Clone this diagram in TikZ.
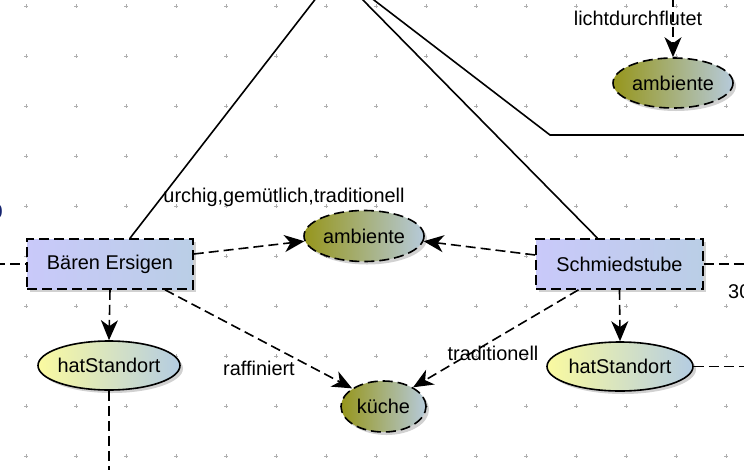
\documentclass[tikz,border=0pt]{standalone}
\usepackage{fontspec}
\setmainfont{Liberation Sans}
\usetikzlibrary{shapes.geometric,shadows,arrows.meta}
\definecolor{boxL}{RGB}{201,201,250}
\definecolor{boxR}{RGB}{186,206,230}
\definecolor{oliveL}{RGB}{150,150,28}
\definecolor{oliveR}{RGB}{182,202,218}
\definecolor{yelL}{RGB}{250,250,160}
\definecolor{yelR}{RGB}{180,204,226}
\definecolor{gridc}{RGB}{175,175,175}
\definecolor{navyc}{RGB}{20,35,110}
\tikzset{
  shad/.style={drop shadow={shadow xshift=3pt,shadow yshift=-3pt,fill=black,opacity=0.18}},
  dsh/.style={dash pattern=on 10pt off 5pt},
  inst/.style={rectangle,draw=black,line width=1.6pt,dsh,left color=boxL,right color=boxR,shad,
    minimum height=50pt,inner sep=0pt,font=\fontsize{19.9}{23}\selectfont},
  ell/.style={ellipse,draw=black,line width=1.6pt,shad,inner sep=0pt},
  olv/.style={ell,dsh,left color=oliveL,right color=oliveR},
  yel/.style={ell,left color=yelL,right color=yelR},
  txt/.style={font=\fontsize{19.9}{23}\selectfont,inner sep=0pt},
  lbl/.style={font=\fontsize{19.9}{23}\selectfont,inner sep=0pt},
  conn/.style={line width=1.6pt,dsh},
  arr/.style={conn,-{Stealth[length=20pt,width=17pt,inset=6pt]}},
  solidl/.style={line width=1.6pt},
  every label/.style={txt}
}
\begin{document}
\begin{tikzpicture}[x=1pt,y=-1pt]
\useasboundingbox (0,0) rectangle (744,469);
\clip (0,0) rectangle (744,469);
% grid
\foreach \i in {0,...,14} {\foreach \j in {0,...,9} {
  \draw[gridc,line width=0.6pt] ({26+50*\i-2},{6+50*\j}) -- ({26+50*\i+2},{6+50*\j})
    ({26+50*\i},{6+50*\j-2}) -- ({26+50*\i},{6+50*\j+2});
}}
% free ends
\coordinate (t1) at (317,-3);
\coordinate (t2) at (360,-3);
\coordinate (t3) at (370,-3);
\coordinate (bend) at (550,135);
\coordinate (r3) at (750,135);
\coordinate (t4) at (673,-3);
\coordinate (l1) at (-5,264);
\coordinate (r1) at (750,264);
\coordinate (r2) at (750,366.5);
\coordinate (b1) at (109,475);
% nodes
\node[inst,minimum width=166pt] (baeren) at (110,264) {Bären Ersigen};
\node[inst,minimum width=167pt] (schmied) at (619.5,264) {Schmiedstube};
\node[olv,minimum width=120pt,minimum height=51pt,label={center:ambiente}] (amb1) at (364,236) {};
\node[olv,minimum width=120pt,minimum height=50pt,label={center:ambiente}] (amb2) at (673,83) {};
\node[olv,minimum width=85pt,minimum height=51pt,label={center:küche}] (kueche) at (383.5,406.5) {};
\node[yel,minimum width=142pt,minimum height=49pt,label={center:hatStandort}] (hs1) at (109,365.5) {};
\node[yel,minimum width=146pt,minimum height=49pt,label={center:hatStandort}] (hs2) at (620,366.5) {};
% labels
\node[lbl] (la) at (284,197) {urchig,gemütlich,traditionell};
\node[lbl] (lb) at (259,368) {raffiniert};
\node[lbl] (lc) at (493,353) {traditionell};
\node[lbl] (ld) at (638,18) {lichtdurchflutet};
\node[lbl,anchor=west] (le) at (728,292) {30};
\node[lbl,anchor=east,text=navyc] (lf) at (3,212) {0};
% solid connectors
\draw[solidl] (t1) -- ([xshift=20pt]baeren.north);
\draw[solidl] (t2) -- ([xshift=-22pt]schmied.north);
\draw[solidl] (t3) -- (bend) -- (r3);
% dashed connectors
\draw[conn] (l1) -- (baeren.west);
\draw[conn] (schmied.east) -- (r1);
\draw[conn] (hs2.east) -- (r2);
\draw[conn] (hs1.south) -- (b1);
\draw[arr] ([yshift=10pt]baeren.east) -- (amb1.185);
\draw[arr] ([yshift=9pt]schmied.west) -- (amb1.355);
\draw[arr] (baeren.south) -- (hs1.north);
\draw[arr] (schmied.south) -- (hs2.north);
\draw[arr] ([xshift=55pt]baeren.south) -- (kueche.150);
\draw[arr] ([xshift=-41pt]schmied.south) -- (kueche.33);
\draw[arr] (t4) -- (amb2.north);
\end{tikzpicture}
\end{document}
